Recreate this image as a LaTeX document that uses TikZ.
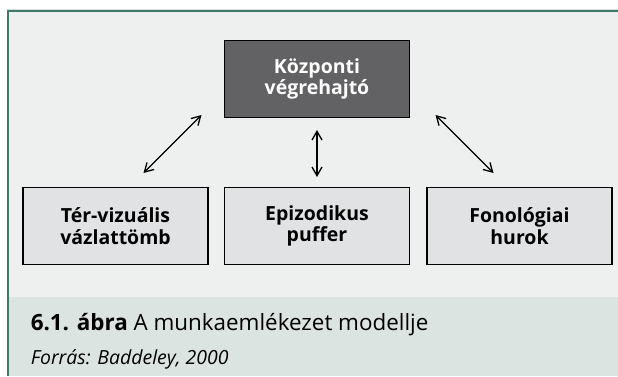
\documentclass[tikz,border=0pt]{standalone}
\usepackage{fontspec}
\setmainfont{Open Sans}
\usetikzlibrary{arrows.meta}
\definecolor{panel}{HTML}{EDF0EF}
\definecolor{band}{HTML}{DCE4E1}
\definecolor{framec}{HTML}{3E7A6A}
\definecolor{darkbox}{HTML}{626264}
\definecolor{lightbox}{HTML}{E1E2E4}
\definecolor{faint}{HTML}{D9DEDC}
\begin{document}
\begin{tikzpicture}[x=0.75pt,y=-0.75pt,
  boxbase/.style={draw=black,line width=1.1pt,rectangle,align=center,
    minimum width=138.5pt,minimum height=57.4pt,inner sep=0pt,
    font=\bfseries\fontsize{14.6}{16.2}\selectfont},
  topbox/.style={boxbase,fill=darkbox,text=white},
  lowbox/.style={boxbase,fill=lightbox,text=black},
  arr/.style={line width=1pt,{Straight Barb[length=6.5pt,width=7.5pt]}-{Straight Barb[length=6.5pt,width=7.5pt]}}]
\useasboundingbox (0,0) rectangle (618,376);
\fill[white] (0,0) rectangle (618,376);
\fill[panel] (7,11) rectangle (618,297);
\fill[band] (7,297) rectangle (618,376);
\draw[faint,line width=0.8pt] (7,9.3) -- (618,9.3);
\draw[framec,line width=1.2pt] (7,10.9) -- (618,10.9);
\draw[framec,line width=1.3pt] (7.9,10.2) -- (7.9,376);

\node[topbox] (cv) at (317,79) {Központi\\végrehajtó};
\node[lowbox] (tv) at (115.5,226) {Tér-vizuális\\vázlattömb};
\node[lowbox] (ep) at (317,226) {Epizodikus\\puffer};
\node[lowbox] (fh) at (519.5,226) {Fonológiai\\hurok};

\coordinate (l1) at (201.5,115);
\coordinate (l2) at (143.5,173);
\coordinate (m1) at (317,130);
\coordinate (m2) at (317,177);
\coordinate (r1) at (435.5,115);
\coordinate (r2) at (493.5,173);
\draw[arr] (l1) -- (l2);
\draw[arr] (m1) -- (m2);
\draw[arr] (r1) -- (r2);

\node[anchor=base west,inner sep=0pt] (cap) at (30.5,330.7)
  {\fontsize{16.8}{20}\selectfont\textbf{6.1. ábra} A munkaemlékezet modellje};
\node[anchor=base west,inner sep=0pt] (src) at (30.5,364.5)
  {\fontsize{14.6}{18}\selectfont\itshape Forrás: Baddeley, 2000};
\end{tikzpicture}
\end{document}
